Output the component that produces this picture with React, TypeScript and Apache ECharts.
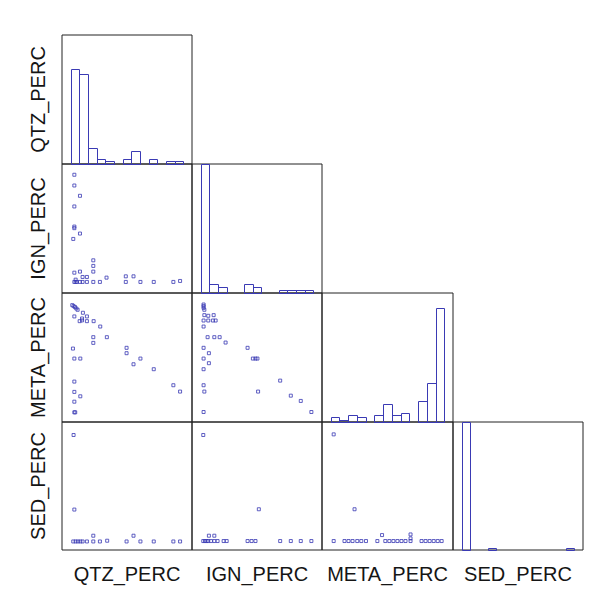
import React, { useEffect, useRef } from "react";
import * as echarts from "echarts";

const variableNames = ["QTZ_PERC", "IGN_PERC", "META_PERC", "SED_PERC"];

// histogram bin edges (shared by all variables) and bar heights
const binEdges = [0, 8, 16, 24, 32, 40, 48, 56, 64, 72, 80, 88, 96, 104];
const qtzCounts = [36, 34, 6, 2, 1, 0, 2, 5, 0, 2, 0, 1, 1];
const ignCounts = [44, 3, 2, 0, 0, 3, 2, 0, 0, 1, 1, 1, 1];
const metaCounts = [2, 1, 3, 2, 0, 3, 8, 3, 4, 0, 9, 17, 50];
const sedCounts = [78, 0, 0, 1, 0, 0, 0, 0, 0, 0, 0, 0, 1];
const histCounts = [qtzCounts, ignCounts, metaCounts, sedCounts];
const histMax = [49, 44, 56.5, 78];

// scatter panels: [x, y]
const ignVsQtz = [
  [3.4, 102], [3.4, 92], [8.6, 82.4], [3.4, 72.5], [3.4, 52.3], [3.4, 53.8], [8.6, 47.3], [2.4, 42.3],
  [20.9, 22.4], [20.9, 17.2], [20.9, 11.9], [3.4, 10.9], [8.6, 11.9], [11, 6.9], [15, 6.9], [33.1, 6.3],
  [50.9, 7.5], [58, 7.5], [3.4, 2.3], [4.6, 2.3], [5.8, 2.3], [8.6, 2.3], [11, 2.3], [15, 2.3],
  [20.9, 2.3], [27, 2.3], [50.9, 2.3], [64.4, 2.3], [76.7, 2.3], [94.8, 2.3], [101, 3.2], [4.6, 4.4],
];
const metaVsQtz = [
  [1.5, 100.7], [2.7, 99.8], [4, 98.9], [5.2, 97.6], [6.4, 96.4], [11.3, 93.6], [3.4, 90.2], [15, 90.2],
  [10.5, 88.3], [10.5, 86.5], [8.3, 85.8], [15, 85.8], [21.2, 85.8], [27.3, 80.8], [20.9, 70.9], [33.4, 70.9],
  [20.9, 65.6], [2.1, 60.3], [51.6, 61], [51.6, 56], [3.4, 51], [8.9, 51], [64.4, 51], [58, 45.7],
  [76.7, 41.1], [3.4, 29.6], [94.8, 26.2], [101, 20.3], [3.4, 20], [8.9, 15.9], [3.4, 10.9], [3.4, 1],
  [4.2, 1],
];
const metaVsIgn = [
  [2.7, 101.3], [2.7, 99.8], [2.7, 98.2], [3.4, 96.4], [3.4, 91.4], [7, 90.8], [12, 91.4], [2.7, 86.4],
  [7, 86.4], [11.3, 86.4], [13.8, 86.4], [2.7, 80.8], [6.4, 70.9], [12.6, 70.9], [17.5, 70.9], [23, 65.9],
  [2.7, 61], [43.3, 61], [7.6, 56], [2.7, 51], [48.2, 51], [50.6, 51], [52.4, 51], [7.6, 46.7],
  [2.7, 41.1], [73.4, 30.5], [2.7, 26.2], [3.4, 20.3], [53, 20.3], [83.2, 16.5], [92.4, 11.6], [2.7, 1.3],
  [102.2, 1.3],
];
const sedVsQtz = [
  [2.7, 99.8], [3.4, 29.9], [20.9, 5.4], [2.4, 0], [4.6, 0], [6.7, 0], [8.9, 0], [11, 0], [15, 0],
  [20.9, 0], [27, 0], [33.7, 0.7], [51.6, 0], [58, 5.4], [64.4, 0], [76.7, 0], [94.8, 0], [101, 0],
];
const sedVsIgn = [
  [2.4, 99.8], [53.7, 30.2], [7.6, 5.4], [12.6, 5.4], [2.4, 0.4], [4, 0.4], [5.5, 0.4], [7, 0.4],
  [9.5, 0.4], [12.6, 0.4], [15.6, 0.4], [21.2, 0.4], [24, 0.4], [43.3, 0.4], [47, 0.4], [50.6, 0.4],
  [73.4, 0.4], [83.2, 0.4], [92.4, 0.4], [102.2, 0.4],
];
const sedVsMeta = [
  [2.7, 100.4], [21.8, 30.2], [47, 6], [73.1, 6.6], [73.1, 2.9], [2.7, 0.4], [12.6, 0.4], [16.3, 0.4],
  [20, 0.4], [24.3, 0.4], [28, 0.4], [32.3, 0.4], [42.7, 0.4], [50, 0.4], [53.7, 0.4], [57.4, 0.4],
  [61.1, 0.4], [64.8, 0.4], [68.5, 0.4], [73.1, 0.4], [83.2, 0.4], [86.9, 0.4], [90.6, 0.4], [94.3, 0.4],
  [98, 0.4], [101.6, 0.4],
];
const scatterPanels: Record<string, number[][]> = {
  "1-0": ignVsQtz,
  "2-0": metaVsQtz,
  "2-1": metaVsIgn,
  "3-0": sedVsQtz,
  "3-1": sedVsIgn,
  "3-2": sedVsMeta,
};

const axisMin = -8;
const axisMax = 112;

const colLeft = [62, 192, 322, 453];
const colWidth = [130, 130, 131, 130];
const rowTop = [35, 164, 293, 422];
const rowHeight = [129, 129, 129, 128];

const markColor = "#3a3ab4";
const borderColor = "#222222";

export default function App() {
  const ref = useRef<HTMLDivElement>(null);

  useEffect(() => {
    if (!ref.current) return;
    const chart = echarts.init(ref.current, undefined, { renderer: "svg" });

    const grids: any[] = [];
    const xAxes: any[] = [];
    const yAxes: any[] = [];
    const series: any[] = [];
    let gi = 0;
    for (let r = 0; r < 4; r++) {
      for (let c = 0; c <= r; c++) {
        grids.push({
          left: colLeft[c],
          top: rowTop[r],
          width: colWidth[c],
          height: rowHeight[r],
          show: true,
          borderColor,
          borderWidth: 1,
          backgroundColor: "transparent",
        });
        xAxes.push({
          type: "value",
          gridIndex: gi,
          min: axisMin,
          max: axisMax,
          show: false,
        });
        if (r === c) {
          yAxes.push({ type: "value", gridIndex: gi, min: 0, max: histMax[r], show: false });
          const counts = histCounts[r];
          series.push({
            type: "custom",
            xAxisIndex: gi,
            yAxisIndex: gi,
            clip: false,
            data: counts.map((v, i) => [binEdges[i], binEdges[i + 1], v]),
            renderItem: (params: any, api: any) => {
              const v = api.value(2);
              if (!v) return null;
              const p0 = api.coord([api.value(0), v]);
              const p1 = api.coord([api.value(1), 0]);
              return {
                type: "rect",
                shape: {
                  x: Math.round(p0[0]) + 0.5,
                  y: Math.round(p0[1]) + 0.5,
                  width: Math.round(p1[0]) - Math.round(p0[0]),
                  height: Math.round(p1[1]) - Math.round(p0[1]),
                },
                style: { fill: "none", stroke: markColor, lineWidth: 1 },
              };
            },
          });
        } else {
          yAxes.push({ type: "value", gridIndex: gi, min: axisMin, max: axisMax, show: false });
          series.push({
            type: "scatter",
            xAxisIndex: gi,
            yAxisIndex: gi,
            symbol: "rect",
            symbolSize: [3, 3],
            itemStyle: { color: "transparent", borderColor: markColor, borderWidth: 1 },
            data: scatterPanels[`${r}-${c}`],
          });
        }
        gi++;
      }
    }

    const graphics: any[] = [];
    variableNames.forEach((name, i) => {
      graphics.push({
        type: "text",
        x: 38,
        y: rowTop[i] + rowHeight[i] / 2,
        rotation: Math.PI / 2,
        style: {
          text: name,
          font: '20px "Liberation Sans", Arial, sans-serif',
          fill: "#151515",
          align: "center",
          verticalAlign: "middle",
        },
      });
      graphics.push({
        type: "text",
        x: colLeft[i] + colWidth[i] / 2,
        y: 574,
        style: {
          text: name,
          font: '20px "Liberation Sans", Arial, sans-serif',
          fill: "#151515",
          align: "center",
          verticalAlign: "middle",
        },
      });
    });

    chart.setOption({
      animation: false,
      backgroundColor: "#ffffff",
      grid: grids,
      xAxis: xAxes,
      yAxis: yAxes,
      series,
      graphic: graphics,
    });

    return () => chart.dispose();
  }, []);

  return (
    <div
      ref={ref}
      style={{ position: "absolute", left: 0, top: 0, width: 615, height: 600 }}
    />
  );
}
